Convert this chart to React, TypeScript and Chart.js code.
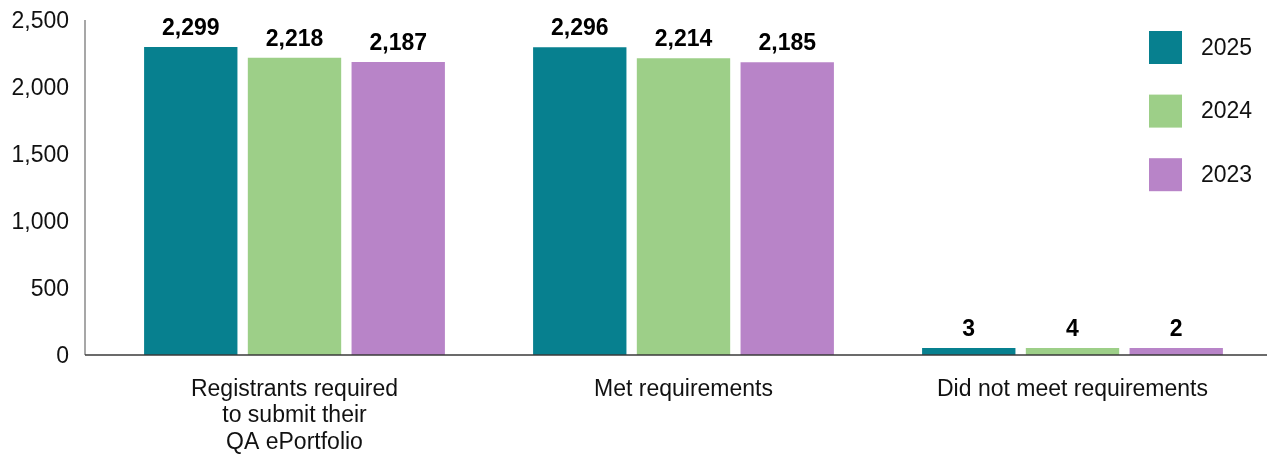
import React, { useEffect, useRef } from "react";
import { Chart, registerables } from "chart.js";

Chart.register(...registerables);

const categories: (string | string[])[] = [
  ["Registrants required", "to submit their", "QA ePortfolio"],
  "Met requirements",
  "Did not meet requirements",
];
const seriesLabels = ["2025", "2024", "2023"];
const values2025 = [2299, 2296, 3];
const values2024 = [2218, 2214, 4];
const values2023 = [2187, 2185, 2];
const seriesColors = ["#07808f", "#9dcf88", "#b884c8"];
const yTicks = [0, 500, 1000, 1500, 2000, 2500];

const FONT = "'Liberation Sans', Arial, Helvetica, sans-serif";

const axisLinesPlugin = {
  id: "axisLines",
  beforeDatasetsDraw(chart: any) {
    const { ctx, chartArea } = chart;
    const x0 = chartArea.left - 15;
    ctx.save();
    ctx.lineWidth = 1.5;
    ctx.strokeStyle = "#8a8a8a";
    ctx.beginPath();
    ctx.moveTo(x0, chartArea.top);
    ctx.lineTo(x0, chartArea.bottom);
    ctx.stroke();
    ctx.restore();
  },
  afterDatasetsDraw(chart: any) {
    const { ctx, chartArea } = chart;
    const x0 = chartArea.left - 15;
    ctx.save();
    ctx.lineWidth = 1.5;
    ctx.strokeStyle = "#3a3a3a";
    ctx.beginPath();
    ctx.moveTo(x0, chartArea.bottom);
    ctx.lineTo(chartArea.right, chartArea.bottom);
    ctx.stroke();
    ctx.restore();
  },
};

const valueLabelPlugin = {
  id: "valueLabels",
  afterDatasetsDraw(chart: any) {
    const { ctx } = chart;
    ctx.save();
    ctx.font = `bold 23px ${FONT}`;
    ctx.fillStyle = "#000";
    ctx.textAlign = "center";
    ctx.textBaseline = "alphabetic";
    chart.data.datasets.forEach((ds: any, i: number) => {
      const meta = chart.getDatasetMeta(i);
      meta.data.forEach((bar: any, j: number) => {
        const v = ds.data[j] as number;
        ctx.fillText(v.toLocaleString("en-US"), bar.x, bar.y - 12);
      });
    });
    ctx.restore();
  },
};

const insideLegendPlugin = {
  id: "insideLegend",
  afterDraw(chart: any) {
    const { ctx, chartArea } = chart;
    const sx = chartArea.right - 118;
    ctx.save();
    ctx.font = `23px ${FONT}`;
    ctx.textAlign = "left";
    ctx.textBaseline = "middle";
    chart.data.datasets.forEach((ds: any, i: number) => {
      const cy = 47.5 + i * 63.6;
      ctx.fillStyle = ds.backgroundColor;
      ctx.fillRect(sx, cy - 16.5, 33, 33);
      ctx.fillStyle = "#111";
      ctx.fillText(ds.label, sx + 52, cy + 1);
    });
    ctx.restore();
  },
};

export default function App() {
  const canvasRef = useRef<HTMLCanvasElement | null>(null);

  useEffect(() => {
    document.body.style.margin = "0";
    const canvas = canvasRef.current;
    if (!canvas) return;
    const seriesValues = [values2025, values2024, values2023];
    const chart = new Chart(canvas, {
      type: "bar",
      data: {
        labels: categories,
        datasets: seriesLabels.map((label, i) => ({
          label,
          data: seriesValues[i],
          backgroundColor: seriesColors[i],
          borderWidth: 0,
          categoryPercentage: 0.8,
          barPercentage: 0.9,
          minBarLength: 7,
        })),
      },
      options: {
        animation: false,
        responsive: true,
        maintainAspectRatio: false,
        layout: { padding: { top: 20, right: 0, bottom: 0, left: 0 } },
        plugins: {
          legend: { display: false },
          tooltip: { enabled: false },
          title: { display: false },
        },
        scales: {
          x: {
            grid: { display: false, drawTicks: false },
            border: { display: false },
            ticks: {
              padding: 21,
              color: "#111",
              font: { family: FONT, size: 23, lineHeight: 1.16 },
              maxRotation: 0,
              autoSkip: false,
            },
            afterFit(scale: any) {
              scale.height = 104;
              scale.paddingLeft = 0;
              scale.paddingRight = 0;
            },
          },
          y: {
            min: 0,
            max: 2500,
            grid: { display: false, drawTicks: false },
            border: { display: false },
            afterBuildTicks(scale: any) {
              scale.ticks = yTicks.map((v) => ({ value: v }));
            },
            ticks: {
              padding: 31,
              labelOffset: 2,
              color: "#111",
              font: { family: FONT, size: 23 },
              callback: (v: any) => Number(v).toLocaleString("en-US"),
            },
            afterFit(scale: any) {
              scale.width = 100;
              scale.paddingTop = 0;
              scale.paddingBottom = 0;
            },
          },
        },
      },
      plugins: [axisLinesPlugin, valueLabelPlugin, insideLegendPlugin],
    });
    return () => chart.destroy();
  }, []);

  return (
    <div style={{ position: "relative", width: "1267px", height: "459px", background: "#fff" }}>
      <canvas ref={canvasRef} />
    </div>
  );
}
